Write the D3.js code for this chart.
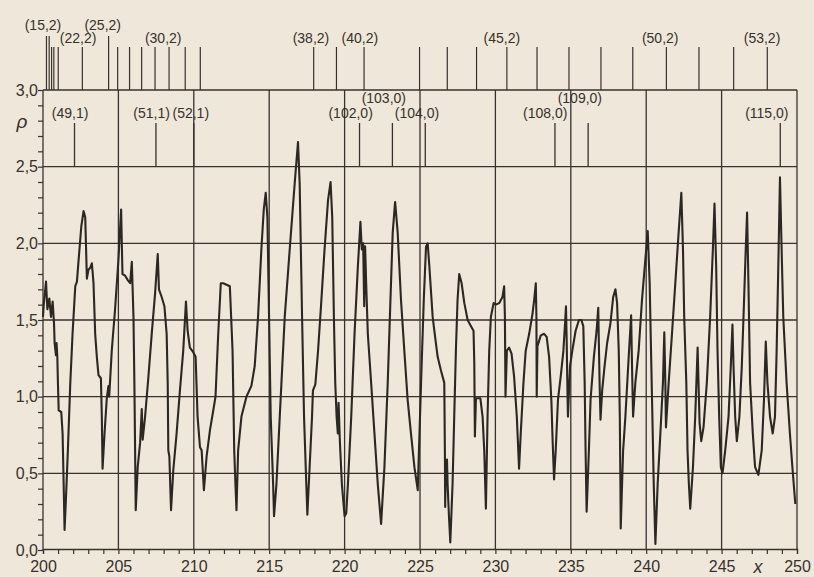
<!DOCTYPE html>
<html lang="ru">
<head>
<meta charset="UTF-8">
<title>rho(x)</title>
<script src="https://d3js.org/d3.v7.min.js"></script>
<style>
  body { margin: 0; background: #efe7d9; }
  svg { display: block; font-family: "Liberation Sans", Arial, sans-serif; }
</style>
</head>
<body>
<div id="chart"></div>
<script>
// rho(x) curve (x from 200 to 250)
const xValues = [
  200.00, 200.04, 200.20, 200.29, 200.42, 200.53, 200.64, 200.73, 200.77, 200.86,
  200.90, 200.95, 200.99, 201.04, 201.21, 201.30, 201.37, 201.43, 201.52, 201.65,
  201.81, 201.96, 202.14, 202.25, 202.36, 202.54, 202.69, 202.80, 202.91, 203.02,
  203.13, 203.24, 203.35, 203.46, 203.57, 203.68, 203.84, 203.90, 203.95, 204.08,
  204.23, 204.34, 204.39, 204.56, 204.78, 205.00, 205.18, 205.27, 205.44, 205.62,
  205.78, 205.89, 206.00, 206.06, 206.15, 206.28, 206.44, 206.55, 206.61, 206.77,
  206.99, 207.21, 207.43, 207.61, 207.69, 207.87, 208.05, 208.20, 208.27, 208.31,
  208.38, 208.49, 208.64, 208.86, 209.08, 209.30, 209.48, 209.59, 209.74, 209.96,
  210.12, 210.25, 210.41, 210.52, 210.67, 210.85, 211.07, 211.29, 211.44, 211.62,
  211.79, 211.95, 212.17, 212.39, 212.57, 212.68, 212.76, 212.83, 212.94, 213.16,
  213.49, 213.82, 214.04, 214.26, 214.48, 214.64, 214.77, 214.88, 214.99, 215.10,
  215.26, 215.32, 215.48, 215.70, 216.03, 216.36, 216.69, 216.91, 217.02, 217.18,
  217.31, 217.46, 217.53, 217.68, 217.84, 217.90, 218.06, 218.24, 218.46, 218.67,
  218.90, 219.07, 219.18, 219.29, 219.38, 219.47, 219.55, 219.60, 219.69, 219.82,
  220.00, 220.11, 220.22, 220.44, 220.66, 220.88, 221.05, 221.14, 221.23, 221.30,
  221.36, 221.43, 221.54, 221.76, 221.98, 222.20, 222.42, 222.64, 222.86, 223.04,
  223.19, 223.35, 223.52, 223.74, 223.96, 224.18, 224.40, 224.63, 224.85, 225.07,
  225.25, 225.40, 225.51, 225.62, 225.84, 225.95, 226.17, 226.39, 226.61, 226.65,
  226.67, 226.72, 226.79, 226.83, 226.92, 227.01, 227.16, 227.27, 227.38, 227.49,
  227.60, 227.76, 227.94, 228.16, 228.38, 228.55, 228.60, 228.64, 228.71, 229.00,
  229.15, 229.26, 229.37, 229.48, 229.59, 229.70, 229.88, 230.03, 230.25, 230.47,
  230.58, 230.63, 230.67, 230.76, 230.91, 231.07, 231.24, 231.42, 231.57, 231.68,
  231.86, 232.01, 232.24, 232.46, 232.57, 232.68, 232.72, 232.74, 232.79, 233.01,
  233.23, 233.40, 233.56, 233.71, 233.80, 233.89, 234.00, 234.15, 234.33, 234.51,
  234.62, 234.68, 234.73, 234.77, 234.81, 234.95, 235.10, 235.32, 235.54, 235.70,
  235.83, 235.92, 235.98, 236.05, 236.20, 236.31, 236.53, 236.71, 236.82, 236.86,
  236.91, 236.97, 237.08, 237.24, 237.41, 237.63, 237.81, 237.96, 238.07, 238.18,
  238.25, 238.29, 238.31, 238.47, 238.62, 238.84, 239.00, 239.06, 239.13, 239.28,
  239.50, 239.72, 239.94, 240.10, 240.23, 240.32, 240.41, 240.50, 240.61, 240.76,
  240.94, 241.11, 241.20, 241.27, 241.31, 241.49, 241.71, 241.93, 242.15, 242.33,
  242.44, 242.52, 242.66, 242.74, 242.83, 242.92, 243.10, 243.25, 243.41, 243.47,
  243.54, 243.65, 243.80, 244.02, 244.24, 244.42, 244.53, 244.64, 244.73, 244.84,
  244.95, 245.06, 245.24, 245.46, 245.61, 245.72, 245.79, 245.90, 246.01, 246.18,
  246.34, 246.49, 246.60, 246.69, 246.78, 246.89, 247.07, 247.22, 247.44, 247.66,
  247.81, 247.93, 248.04, 248.21, 248.39, 248.54, 248.65, 248.76, 248.87, 248.98,
  249.09, 249.31, 249.53, 249.71, 249.89
];
const rhoValues = [
  1.52, 1.59, 1.75, 1.57, 1.64, 1.52, 1.62, 1.48, 1.35, 1.27,
  1.35, 1.26, 1.09, 0.91, 0.90, 0.76, 0.43, 0.13, 0.33, 0.65,
  1.09, 1.41, 1.72, 1.75, 1.89, 2.11, 2.21, 2.17, 1.77, 1.83,
  1.84, 1.87, 1.74, 1.41, 1.26, 1.14, 1.12, 0.87, 0.53, 0.76,
  0.99, 1.07, 1.00, 1.30, 1.57, 1.89, 2.22, 1.80, 1.79, 1.76,
  1.74, 1.88, 1.52, 1.09, 0.26, 0.54, 0.70, 0.92, 0.72, 0.87,
  1.13, 1.41, 1.67, 1.93, 1.70, 1.65, 1.59, 1.41, 1.09, 0.65,
  0.61, 0.26, 0.52, 0.76, 1.04, 1.30, 1.62, 1.43, 1.32, 1.29,
  1.26, 0.87, 0.67, 0.65, 0.39, 0.61, 0.78, 0.91, 1.00, 1.41,
  1.74, 1.74, 1.73, 1.72, 1.30, 0.65, 0.43, 0.26, 0.65, 0.87,
  1.00, 1.07, 1.20, 1.52, 1.96, 2.22, 2.33, 2.17, 1.52, 0.87,
  0.43, 0.22, 0.43, 0.87, 1.52, 1.96, 2.39, 2.66, 2.39, 1.52,
  0.87, 0.43, 0.23, 0.54, 0.87, 1.04, 1.08, 1.30, 1.63, 1.96,
  2.28, 2.40, 2.17, 1.52, 1.09, 0.87, 0.76, 0.96, 0.70, 0.43,
  0.22, 0.24, 0.43, 0.87, 1.41, 1.85, 2.14, 1.96, 2.00, 1.59,
  1.98, 1.74, 1.41, 1.09, 0.76, 0.43, 0.17, 0.54, 1.09, 1.63,
  2.07, 2.27, 2.07, 1.63, 1.30, 0.98, 0.76, 0.54, 0.39, 1.09,
  1.63, 1.98, 2.00, 1.85, 1.52, 1.43, 1.26, 1.17, 1.09, 0.65,
  0.28, 0.57, 0.59, 0.43, 0.22, 0.05, 0.43, 0.87, 1.30, 1.63,
  1.80, 1.74, 1.61, 1.50, 1.46, 1.43, 1.22, 0.74, 0.99, 0.99,
  0.87, 0.65, 0.27, 0.87, 1.30, 1.52, 1.61, 1.60, 1.61, 1.65,
  1.72, 1.52, 1.00, 1.30, 1.32, 1.28, 1.13, 0.87, 0.53, 0.76,
  1.09, 1.30, 1.41, 1.54, 1.63, 1.74, 1.52, 1.00, 1.33, 1.40,
  1.41, 1.39, 1.26, 0.98, 0.70, 0.46, 0.65, 0.98, 1.13, 1.30,
  1.48, 1.59, 1.35, 1.09, 0.87, 1.20, 1.30, 1.43, 1.50, 1.50,
  1.46, 1.09, 0.65, 0.25, 0.65, 0.98, 1.26, 1.43, 1.58, 1.35,
  1.09, 0.85, 1.04, 1.20, 1.35, 1.48, 1.65, 1.70, 1.61, 1.30,
  0.87, 0.43, 0.14, 0.65, 0.87, 1.26, 1.53, 1.20, 0.87, 1.09,
  1.30, 1.63, 1.89, 2.08, 1.74, 1.30, 0.87, 0.43, 0.04, 0.43,
  0.76, 1.09, 1.42, 1.09, 0.80, 1.09, 1.41, 1.74, 2.07, 2.33,
  1.96, 1.52, 1.09, 0.65, 0.43, 0.27, 0.54, 0.87, 1.32, 1.09,
  0.83, 0.71, 0.80, 1.09, 1.52, 1.96, 2.26, 1.85, 1.30, 0.87,
  0.54, 0.50, 0.65, 0.87, 1.20, 1.47, 1.20, 0.87, 0.71, 0.87,
  1.20, 1.63, 1.96, 2.20, 1.74, 1.09, 0.76, 0.54, 0.49, 0.65,
  0.98, 1.36, 1.09, 0.87, 0.76, 0.87, 1.30, 1.85, 2.43, 1.96,
  1.52, 1.09, 0.76, 0.52, 0.30
];

// mode markers above the frame
const topModes = [200.23, 200.41, 200.57, 200.72, 201.01, 202.61, 204.35, 204.95, 205.74, 206.54,
  207.43, 208.36, 209.43, 210.43, 217.95, 219.46, 221.29, 224.97, 226.81, 228.75,
  230.76, 232.76, 234.88, 237.00, 239.11, 241.34, 243.50, 245.80, 248.03];
const topLabels = ["(15,2)", "(22,2)", "(25,2)", "(30,2)", "(38,2)", "(40,2)", "(45,2)", "(50,2)", "(53,2)"];
const topLabelX = [200.0, 202.33, 203.96, 207.97, 217.77, 221.01, 230.43, 240.93, 247.68];
const topLabelRow = [0, 1, 0, 1, 1, 1, 1, 1, 1];

// mode markers inside the 2.5 - 3.0 band
const bandModes = [202.09, 207.49, 210.0, 220.99, 223.17, 225.35, 233.95, 236.15, 248.89];
const bandLabels = ["(49,1)", "(51,1)", "(52,1)", "(102,0)", "(103,0)", "(104,0)", "(108,0)", "(109,0)", "(115,0)"];
const bandLabelX = [201.8, 207.2, 209.8, 220.4, 222.6, 224.8, 233.3, 235.6, 248.0];
const bandLabelRow = [0, 0, 0, 0, 1, 0, 0, 1, 0];

const xTicks = [200, 205, 210, 215, 220, 225, 230, 235, 240, 245, 250];
const yTicks = [0, 0.5, 1.0, 1.5, 2.0, 2.5, 3.0];

const width = 814, height = 577;
const ink = "#37322d";

const svg = d3.select("#chart").append("svg")
    .attr("width", width)
    .attr("height", height);

svg.append("rect").attr("width", width).attr("height", height).attr("fill", "#efe7d9");

const x = d3.scaleLinear().domain([200, 250]).range([43, 797]);
const y = d3.scaleLinear().domain([0, 3]).range([550, 90]);

const comma = d3.formatLocale({decimal: ",", thousands: " ", grouping: [3], currency: ["", ""]}).format(".1f");

// grid: horizontal every 0.5, vertical every 5
svg.append("g").selectAll("line").data(yTicks.slice(1)).join("line")
    .attr("x1", x(200)).attr("x2", x(250))
    .attr("y1", d => y(d)).attr("y2", d => y(d))
    .attr("stroke", ink).attr("stroke-width", 1.3);
svg.append("g").selectAll("line").data(xTicks).join("line")
    .attr("x1", d => x(d)).attr("x2", d => x(d))
    .attr("y1", y(0)).attr("y2", y(3))
    .attr("stroke", ink).attr("stroke-width", 1.3);

// minor ticks
const xMinor = svg.append("g").attr("transform", `translate(0,${y(0) - 1})`)
    .call(d3.axisBottom(x).tickValues(d3.range(200, 251, 1)).tickSize(5).tickFormat(""));
xMinor.select(".domain").attr("stroke", ink).attr("stroke-width", 1.3);
xMinor.selectAll(".tick line").attr("stroke", ink).attr("stroke-width", 1.2);

const yMinor = svg.append("g").attr("transform", `translate(${x(200)},0)`)
    .call(d3.axisLeft(y).tickValues(d3.range(0, 3.001, 0.1)).tickSize(5).tickFormat(""));
yMinor.select(".domain").remove();
yMinor.selectAll(".tick line").attr("stroke", ink).attr("stroke-width", 1.2);

// tick labels
const xLab = svg.append("g").attr("transform", `translate(0,${y(0)})`)
    .call(d3.axisBottom(x).tickValues(xTicks).tickSize(0).tickPadding(11).tickFormat(d3.format("d")));
xLab.select(".domain").remove();
xLab.selectAll("text").attr("font-size", 16).attr("font-family", "Liberation Sans, Arial, sans-serif").attr("fill", ink);

const yLab = svg.append("g").attr("transform", `translate(${x(200)},0)`)
    .call(d3.axisLeft(y).tickValues(yTicks).tickSize(0).tickPadding(5).tickFormat(comma));
yLab.select(".domain").remove();
yLab.selectAll("text").attr("font-size", 16).attr("font-family", "Liberation Sans, Arial, sans-serif").attr("fill", ink);

// axis names
svg.append("text").attr("x", 22).attr("y", 128).attr("text-anchor", "middle")
    .attr("font-size", 19).attr("font-style", "italic").attr("fill", ink).text("ρ");
svg.append("text").attr("x", 758).attr("y", 573).attr("text-anchor", "middle")
    .attr("font-size", 18).attr("font-style", "italic").attr("fill", ink).text("x");

// the curve
const pts = xValues.map((v, i) => [v, rhoValues[i]]);
svg.append("path")
    .datum(pts)
    .attr("fill", "none")
    .attr("stroke", "#2b2723")
    .attr("stroke-width", 2.1)
    .attr("stroke-linejoin", "round")
    .attr("d", d3.line().x(d => x(d[0])).y(d => y(d[1])));

// top mode sticks: tall ones reach the upper label row
const tall = topModes.map(m => topLabelX.some((lx, i) => topLabelRow[i] === 0 && Math.abs(lx - m) < 0.5));
svg.append("g").selectAll("line").data(topModes).join("line")
    .attr("x1", d => x(d)).attr("x2", d => x(d))
    .attr("y1", y(3)).attr("y2", (d, i) => tall[i] ? 36 : 47)
    .attr("stroke", ink).attr("stroke-width", 1.2);
svg.append("g").selectAll("text").data(topLabels).join("text")
    .attr("x", (d, i) => x(topLabelX[i]))
    .attr("y", (d, i) => topLabelRow[i] === 0 ? 30 : 43)
    .attr("text-anchor", "middle").attr("font-size", 14).attr("fill", ink)
    .text(d => d);

// band sticks between 2.5 and 3.0
svg.append("g").selectAll("line").data(bandModes).join("line")
    .attr("x1", d => x(d)).attr("x2", d => x(d))
    .attr("y1", y(2.5)).attr("y2", y(2.785))
    .attr("stroke", ink).attr("stroke-width", 1.3);
svg.append("g").selectAll("text").data(bandLabels).join("text")
    .attr("x", (d, i) => x(bandLabelX[i]))
    .attr("y", (d, i) => bandLabelRow[i] === 0 ? 118 : 103)
    .attr("text-anchor", "middle").attr("font-size", 14).attr("fill", ink)
    .text(d => d);
</script>
</body>
</html>
